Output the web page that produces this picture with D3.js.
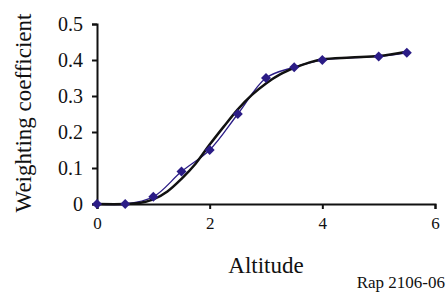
<!DOCTYPE html>
<html><head><meta charset="utf-8">
<script src="https://cdn.jsdelivr.net/npm/d3@7"></script>
<style>body{margin:0;background:#fff}svg{display:block}</style>
</head><body>
<svg id="c" width="446" height="293"></svg>
<script>
const altitude = [0, 0.5, 1, 1.5, 2, 2.5, 3, 3.5, 4, 5, 5.5];
const measured = [0, 0, 0.02, 0.09, 0.15, 0.25, 0.35, 0.38, 0.40, 0.41, 0.42];
const fitAltitude = [0, 0.5, 0.75, 1, 1.25, 1.5, 1.75, 2, 2.25, 2.5, 2.75, 3, 3.25, 3.5, 3.75, 4, 4.5, 5, 5.5];
const fitted = [0, 0, 0.003, 0.013, 0.035, 0.07, 0.112, 0.165, 0.215, 0.263, 0.303, 0.335, 0.36, 0.378, 0.392, 0.402, 0.407, 0.411, 0.423];
const xTicks = [0, 2, 4, 6];
const yTicks = [0, 0.1, 0.2, 0.3, 0.4, 0.5];

const serif = '"Liberation Serif", "Times New Roman", serif';
const svg = d3.select("#c");
const x = d3.scaleLinear().domain([0, 6]).range([97, 435]);
const y = d3.scaleLinear().domain([0, 0.5]).range([204, 24]);

const xAxis = svg.append("g").attr("transform", `translate(0,${y(0)})`)
  .call(d3.axisBottom(x).tickValues(xTicks).tickSize(5).tickPadding(8).tickFormat(d3.format("d")));
xAxis.attr("font-family", null).attr("font-size", null);
xAxis.select(".domain").attr("stroke", "#111").attr("stroke-width", 2);
xAxis.selectAll(".tick line").attr("stroke", "#111").attr("stroke-width", 2);
xAxis.selectAll(".tick text").style("font-size", "17px").style("font-family", serif).style("fill", "#111");

const yAxis = svg.append("g").attr("transform", `translate(${x(0)},0)`)
  .call(d3.axisLeft(y).tickValues(yTicks).tickSize(5).tickPadding(9).tickFormat(d => d === 0 ? "0" : d3.format(".1f")(d)));
yAxis.attr("font-family", null).attr("font-size", null);
yAxis.select(".domain").attr("stroke", "#111").attr("stroke-width", 2);
yAxis.selectAll(".tick line").attr("stroke", "#111").attr("stroke-width", 2);
yAxis.selectAll(".tick text").style("font-size", "20px").style("font-family", serif).style("fill", "#111");

const blue = "#2b1c86";
const line1 = d3.line().x((d, i) => x(altitude[i])).y(d => y(d)).curve(d3.curveCatmullRom.alpha(0.5));
svg.append("path").datum(measured).attr("d", line1).attr("fill", "none").attr("stroke", blue).attr("stroke-width", 1.3);

const line2 = d3.line().x((d, i) => x(fitAltitude[i])).y(d => y(d)).curve(d3.curveCatmullRom.alpha(0.5));
svg.append("path").datum(fitted).attr("d", line2).attr("fill", "none").attr("stroke", "#111").attr("stroke-width", 2.5);

svg.append("g").selectAll("path").data(measured).join("path")
  .attr("transform", (d, i) => `translate(${x(altitude[i])},${y(d)})`)
  .attr("d", "M0,-5L5,0L0,5L-5,0Z").attr("fill", blue);

function label(t) { return t.style("font-family", serif).style("fill", "#111"); }
label(svg.append("text").attr("x", 266).attr("y", 273).attr("text-anchor", "middle").style("font-size", "23px").text("Altitude"));
label(svg.append("text").attr("transform", "translate(31,113) rotate(-90)").attr("text-anchor", "middle").style("font-size", "23px").text("Weighting coefficient"));
label(svg.append("text").attr("x", 445).attr("y", 288).attr("text-anchor", "end").style("font-size", "17px").text("Rap 2106-06"));
</script>
</body></html>
